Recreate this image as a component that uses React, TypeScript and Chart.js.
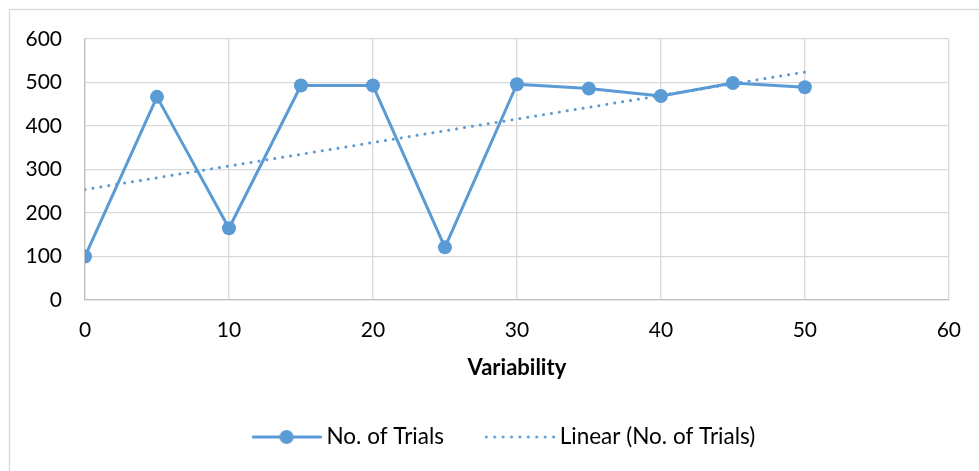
import { useEffect, useRef } from "react";
import { Chart, registerables } from "chart.js";

Chart.register(...registerables);

// ---- data ----
const variability = [0, 5, 10, 15, 20, 25, 30, 35, 40, 45, 50];
const trials = [100, 467, 165, 493, 493, 121, 496, 486, 469, 499, 489];
const trendX = [0, 50];
const trendY = [254, 524];
const seriesName = "No. of Trials";
const trendName = "Linear (No. of Trials)";
const xTitle = "Variability";

const BLUE = "#5B9BD5";
const FONT = "Lato";

function makeMarker(dotted: boolean): HTMLCanvasElement {
  const c = document.createElement("canvas");
  c.width = 70;
  c.height = 16;
  const ctx = c.getContext("2d")!;
  ctx.strokeStyle = BLUE;
  ctx.fillStyle = BLUE;
  ctx.lineCap = "round";
  if (dotted) {
    ctx.lineWidth = 3;
    ctx.setLineDash([0.01, 8.4]);
    ctx.beginPath();
    ctx.moveTo(1.5, 8);
    ctx.lineTo(69.5, 8);
    ctx.stroke();
  } else {
    ctx.lineWidth = 3.2;
    ctx.beginPath();
    ctx.moveTo(1.5, 8);
    ctx.lineTo(68.5, 8);
    ctx.stroke();
    ctx.beginPath();
    ctx.arc(35, 8, 7, 0, Math.PI * 2);
    ctx.fill();
  }
  return c;
}

const outerBorder = {
  id: "outerBorder",
  beforeDraw(chart: any) {
    const ctx = chart.ctx;
    ctx.save();
    ctx.fillStyle = "#ffffff";
    ctx.fillRect(0, 0, chart.width, chart.height);
    ctx.strokeStyle = "#D9D9D9";
    ctx.lineWidth = 1.3;
    ctx.strokeRect(9.5, 9.5, chart.width + 20, chart.height + 20);
    ctx.restore();
  },
};

// shifts the centred legend so it sits where the reference has it
const legendShift = {
  id: "legendShift",
  afterLayout(chart: any) {
    const lg = chart.legend;
    if (lg) {
      lg.left += 32;
      lg.right += 32;
    }
  },
};

export default function App() {
  const ref = useRef<HTMLCanvasElement | null>(null);

  useEffect(() => {
    if (!ref.current) return;
    const markerLine = makeMarker(false);
    const markerDots = makeMarker(true);

    const chart = new Chart(ref.current, {
      type: "scatter",
      data: {
        datasets: [
          {
            label: seriesName,
            data: variability.map((x, i) => ({ x, y: trials[i] })),
            showLine: true,
            borderColor: BLUE,
            backgroundColor: BLUE,
            borderWidth: 3,
            borderJoinStyle: "round",
            pointRadius: 7,
            pointBorderWidth: 0,
            pointHoverRadius: 7,
            order: 1,
          },
          {
            label: trendName,
            data: trendX.map((x, i) => ({ x, y: trendY[i] })),
            showLine: true,
            borderColor: BLUE,
            backgroundColor: BLUE,
            borderWidth: 3,
            borderDash: [0.01, 8],
            borderCapStyle: "round",
            pointRadius: 0,
            pointHoverRadius: 0,
            order: 0,
          },
        ],
      },
      options: {
        animation: false,
        responsive: false,
        devicePixelRatio: 1,
        layout: { padding: { left: 0, right: 30, top: 39, bottom: 12.75 } },
        plugins: {
          tooltip: { enabled: false },
          legend: {
            position: "bottom",
            labels: {
              usePointStyle: true,
              pointStyleWidth: 57.5,
              padding: 47,
              color: "#000",
              font: { family: FONT, size: 22.5 },
              generateLabels: () => [
                {
                  text: seriesName,
                  pointStyle: markerLine as any,
                  fillStyle: BLUE,
                  strokeStyle: BLUE,
                  lineWidth: 0,
                  hidden: false,
                  datasetIndex: 0,
                  fontColor: "#000",
                },
                {
                  text: trendName,
                  pointStyle: markerDots as any,
                  fillStyle: BLUE,
                  strokeStyle: BLUE,
                  lineWidth: 0,
                  hidden: false,
                  datasetIndex: 1,
                  fontColor: "#000",
                },
              ],
            },
          },
        },
        scales: {
          x: {
            type: "linear",
            min: 0,
            max: 60,
            ticks: {
              stepSize: 10,
              padding: 18,
              color: "#000",
              font: { family: FONT, size: 21 },
            },
            grid: { color: "#D9D9D9", lineWidth: 1.3, drawTicks: false },
            border: { color: "#BFBFBF", width: 1.3 },
            title: {
              display: true,
              text: xTitle,
              color: "#000",
              font: { family: FONT, size: 22, weight: "bold" },
              padding: { top: 0, bottom: -2 },
            },
            afterFit: (scale: any) => {
              scale.height = 78.75;
            },
          },
          y: {
            type: "linear",
            min: 0,
            max: 600,
            ticks: {
              stepSize: 100,
              padding: 23,
              color: "#000",
              font: { family: FONT, size: 21 },
            },
            grid: { color: "#D9D9D9", lineWidth: 1.3, drawTicks: false },
            border: { color: "#BFBFBF", width: 1.3 },
            afterFit: (scale: any) => {
              scale.width = 85;
            },
          },
        },
      },
      plugins: [outerBorder, legendShift],
    });

    return () => chart.destroy();
  }, []);

  return (
    <div
      style={{
        position: "fixed",
        left: 0,
        top: 0,
        width: 979,
        height: 471,
        background: "#fff",
      }}
    >
      <canvas ref={ref} width={979} height={471} style={{ display: "block" }} />
    </div>
  );
}
